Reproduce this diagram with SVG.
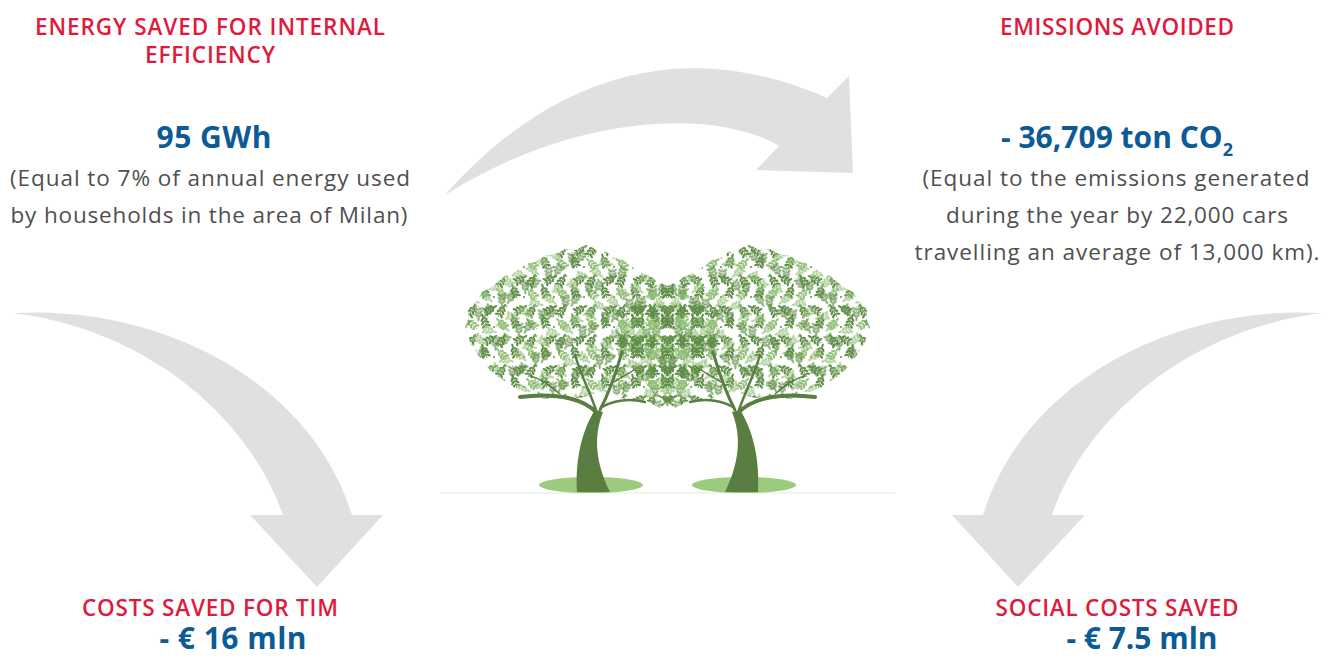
<svg xmlns="http://www.w3.org/2000/svg" xmlns:xlink="http://www.w3.org/1999/xlink" width="1330" height="657" viewBox="0 0 1330 657">
<style>
.hdr{font-family:"Open Sans","Liberation Sans",sans-serif;font-weight:600;font-size:22.5px;fill:#e01a3c;text-anchor:middle}
.val{font-family:"Open Sans","Liberation Sans",sans-serif;font-weight:700;font-size:30px;fill:#0d5b96;text-anchor:middle}
.body{font-family:"Open Sans","Liberation Sans",sans-serif;font-weight:400;font-size:22.5px;fill:#4f4f4f;text-anchor:middle}
.arrow{fill:#e1e0df}
.dk{fill:#5e8d45}
.lt{fill:#93c078}
.stemD{stroke:#5e8d45;stroke-width:0.8;fill:none}
.stemL{stroke:#93c078;stroke-width:0.8;fill:none}
.trunk{fill:#5a7d42}
.br{fill:none;stroke:#5a7d42;stroke-linecap:round}
.ground{fill:#9ccb7d}
</style>
<defs>
<g id="frondD">
<path class="stemD" d="M0,0 L0,-12"/>
<g class="dk">
<ellipse cx="-2.4" cy="-2.5" rx="2.6" ry="1.2" transform="rotate(-35 -2.4 -2.5)"/>
<ellipse cx="2.4" cy="-2.5" rx="2.6" ry="1.2" transform="rotate(35 2.4 -2.5)"/>
<ellipse cx="-2.3" cy="-6" rx="2.5" ry="1.2" transform="rotate(-40 -2.3 -6)"/>
<ellipse cx="2.3" cy="-6" rx="2.5" ry="1.2" transform="rotate(40 2.3 -6)"/>
<ellipse cx="-2" cy="-9.3" rx="2.2" ry="1.1" transform="rotate(-45 -2 -9.3)"/>
<ellipse cx="2" cy="-9.3" rx="2.2" ry="1.1" transform="rotate(45 2 -9.3)"/>
<ellipse cx="0" cy="-13" rx="1.1" ry="2.3"/>
</g>
</g>
<g id="frondL">
<path class="stemL" d="M0,0 L0,-12"/>
<g class="lt">
<ellipse cx="-2.4" cy="-2.5" rx="2.6" ry="1.2" transform="rotate(-35 -2.4 -2.5)"/>
<ellipse cx="2.4" cy="-2.5" rx="2.6" ry="1.2" transform="rotate(35 2.4 -2.5)"/>
<ellipse cx="-2.3" cy="-6" rx="2.5" ry="1.2" transform="rotate(-40 -2.3 -6)"/>
<ellipse cx="2.3" cy="-6" rx="2.5" ry="1.2" transform="rotate(40 2.3 -6)"/>
<ellipse cx="-2" cy="-9.3" rx="2.2" ry="1.1" transform="rotate(-45 -2 -9.3)"/>
<ellipse cx="2" cy="-9.3" rx="2.2" ry="1.1" transform="rotate(45 2 -9.3)"/>
<ellipse cx="0" cy="-13" rx="1.1" ry="2.3"/>
</g>
</g>
<pattern id="leafA" patternUnits="userSpaceOnUse" width="30" height="30">
<use xlink:href="#frondD" transform="translate(7,28) rotate(-20)"/>
<use xlink:href="#frondD" transform="translate(18,17) rotate(30)"/>
<use xlink:href="#frondL" transform="translate(27,29) rotate(-45)"/>
<use xlink:href="#frondD" transform="translate(4,13) rotate(60)"/>
<circle class="lt" cx="26" cy="6" r="1.3"/>
<circle class="dk" cx="14" cy="27" r="1"/>
</pattern>
<pattern id="leafB" patternUnits="userSpaceOnUse" width="27" height="34" patternTransform="translate(13 8) rotate(150)">
<use xlink:href="#frondL" transform="translate(7,30) rotate(-20)"/>
<use xlink:href="#frondD" transform="translate(16,19) rotate(30)"/>
<use xlink:href="#frondL" transform="translate(24,32) rotate(-45)"/>
<use xlink:href="#frondD" transform="translate(4,14) rotate(60)"/>
</pattern>
<clipPath id="canopyL">
<polygon points="465,327 469,318 468,310 477,300 482,292 492,287 505,276 515,272 525,264 535,262 545,256 556,254 565,249 576,250 587,244 596,250 605,251 615,258 625,261 636,270 645,271 655,280 665,285 680,291 700,302 712,315 720,330 712,348 705,365 692,380 680,395 670,400 660,408 645,400 630,402 615,394 600,392 580,398 560,396 545,399 530,394 515,388 500,378 490,370 478,355 470,342"/>
</clipPath>
<clipPath id="overlap">
<polygon points="615,330 635,302 668,287 700,302 720,330 705,365 680,395 668,407 655,395 630,365"/>
</clipPath>
<g id="treeLeft">
<ellipse class="ground" cx="591" cy="485" rx="52" ry="8"/>
<rect x="460" y="240" width="270" height="175" fill="url(#leafA)" clip-path="url(#canopyL)"/>
<rect x="460" y="240" width="270" height="175" fill="url(#leafB)" clip-path="url(#canopyL)" opacity="0.75"/>
<path class="trunk" d="M577,492 C575,460 582,430 595,410 L603,412 C596,430 592,455 610,492 Z"/>
<path class="br" stroke-width="4" d="M597,413 C585,400 560,392 520,397"/>
<path class="br" stroke-width="2.5" d="M596,410 C590,392 582,378 575,355"/>
<path class="br" stroke-width="3" d="M600,410 C608,395 614,380 622,352"/>
<path class="br" stroke-width="2.5" d="M602,407 C615,400 628,398 645,402"/>
<path class="br" stroke-width="1.5" d="M560,394 C548,384 540,378 530,376"/>
<path class="br" stroke-width="1.5" d="M614,382 C625,375 632,372 640,366"/>
</g>
</defs>

<g id="connectors">
<path id="arrow-top" class="arrow" d="M445,195 C520,110 650,20 827,98 L849,76 L853,173 L756,170 L779,146 C720,110 580,110 445,195 Z"/>
<path id="arrow-left" class="arrow" d="M13,313 C160,305 310,380 352,515 L383,515 L317,587 L250,515 L283,515 C250,420 150,330 13,313 Z"/>
<path id="arrow-right" class="arrow" d="M1322,313 C1175,305 1025,380 983,515 L952,515 L1018,587 L1085,515 L1052,515 C1085,420 1185,330 1322,313 Z"/>
</g>

<g id="trees">
<line x1="440" y1="493" x2="895" y2="493" stroke="#eef0e8" stroke-width="1.5"/>
<use xlink:href="#treeLeft"/>
<use xlink:href="#treeLeft" transform="translate(1335,0) scale(-1,1)"/>
<rect x="610" y="280" width="115" height="130" fill="url(#leafA)" clip-path="url(#overlap)" opacity="0.8"/>
</g>

<g id="node-energy">
<text class="hdr" x="210" y="35" textLength="350">ENERGY SAVED FOR INTERNAL</text>
<text class="hdr" x="210" y="63" textLength="130">EFFICIENCY</text>
<text class="val" x="214" y="148" textLength="115">95 GWh</text>
<text class="body" x="210" y="186" textLength="400">(Equal to 7% of annual energy used</text>
<text class="body" x="209" y="223" textLength="397">by households in the area of Milan)</text>
</g>

<g id="node-emissions">
<text class="hdr" x="1117" y="35" textLength="234">EMISSIONS AVOIDED</text>
<text class="val" x="1117" y="148" textLength="232">- 36,709 ton CO<tspan font-size="18" dy="8">2</tspan></text>
<text class="body" x="1116" y="186" textLength="387">(Equal to the emissions generated</text>
<text class="body" x="1117" y="223" textLength="342">during the year by 22,000 cars</text>
<text class="body" x="1117" y="260" textLength="405">travelling an average of 13,000 km).</text>
</g>

<g id="node-costs">
<text class="hdr" x="210" y="616" textLength="256">COSTS SAVED FOR TIM</text>
<text class="val" x="233" y="649" textLength="147">- € 16 mln</text>
</g>

<g id="node-social">
<text class="hdr" x="1117" y="616" textLength="243">SOCIAL COSTS SAVED</text>
<text class="val" x="1142" y="649" textLength="151">- € 7.5 mln</text>
</g>
</svg>
